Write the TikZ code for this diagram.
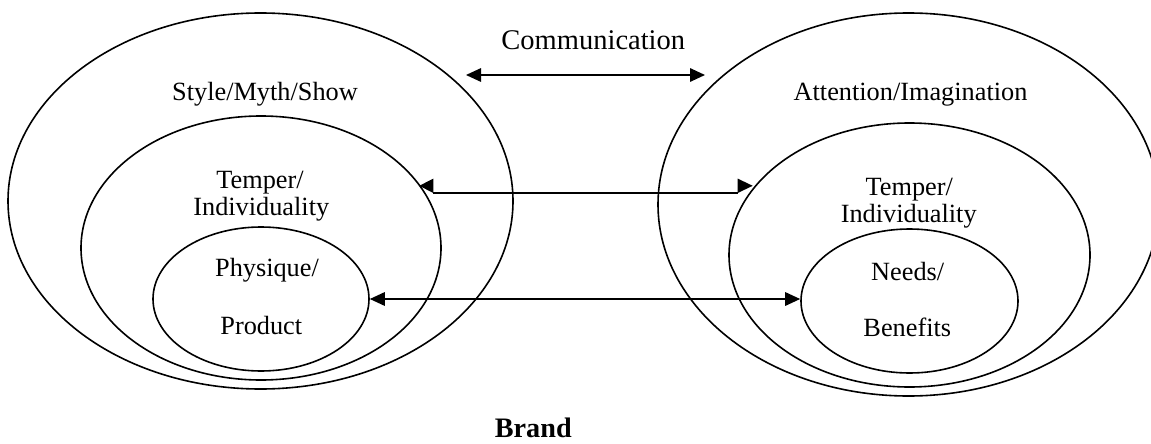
\documentclass[tikz,border=0pt]{standalone}
\usepackage{fontspec}
\setmainfont{Liberation Serif}
\usetikzlibrary{shapes.geometric,arrows.meta}
\begin{document}
\begin{tikzpicture}[x=1pt,y=-1pt,
  ring/.style n args={2}{draw, ellipse, line width=1.6pt, inner sep=0pt, minimum width=#1, minimum height=#2},
  lbl/.style={anchor=base, inner sep=0pt, text depth=0pt, font=\fontsize{26.3}{30}\selectfont},
  conn/.style={line width=1.6pt},
  dbl/.style={line width=1.6pt, >={Triangle[length=15pt,width=13.5pt]}, <->}]
\fill[white] (0,0) rectangle (1151,444);
\useasboundingbox (0,0) rectangle (1151,444);
% left ellipses
\node[ring={505pt}{376pt}] (louter) at (260.5,201) {};
\node[ring={360pt}{264pt}] (lmid) at (261,248) {};
\node[ring={216pt}{144pt}] (linner) at (261,299) {};
% right ellipses
\node[ring={501pt}{383pt}] (router) at (908.5,204.5) {};
\node[ring={361pt}{264pt}] (rmid) at (909.5,255) {};
\node[ring={217pt}{144pt}] (rinner) at (909.5,301) {};
% labels
\node[lbl, font=\fontsize{28.5}{32}\selectfont] (comm) at (593.3,49.3) {Communication};
\node[lbl] (lstyle) at (265,100) {Style/Myth/Show};
\node[lbl] (rattn) at (910.5,100) {Attention/Imagination};
\node[lbl] (ltemp1) at (260,188.3) {Temper/};
\node[lbl] (ltemp2) at (261.3,215.7) {Individuality};
\node[lbl] (lphys) at (267,276.7) {Physique/};
\node[lbl] (lprod) at (261.3,334) {Product};
\node[lbl] (rtemp1) at (909.3,195.7) {Temper/};
\node[lbl] (rtemp2) at (908.7,222.3) {Individuality};
\node[lbl] (rneed) at (907.7,280) {Needs/};
\node[lbl] (rben) at (907.3,336.3) {Benefits};
\node[lbl, font=\fontsize{28.2}{32}\selectfont\bfseries] (brand) at (533.3,437.5) {Brand};
% top arrow (Communication)
\coordinate (cL) at (466,75);
\coordinate (cR) at (705,75);
\draw[dbl] (cL) -- (cR);
% middle arrow (Temper/Individuality), heads offset above the shaft
\coordinate (mtipL) at (419.3,185.8);
\coordinate (mtipR) at (752.7,185.8);
\path (mtipL) ++(14,7.2) coordinate (mbaseL);
\path (mtipR) ++(-15,7.2) coordinate (mbaseR);
\draw[conn] (mbaseL) -- (mbaseR);
\fill (mtipL) -- ++(14,-7.2) -- ++(0,14.4) -- cycle;
\fill (mtipR) -- ++(-15,-7.2) -- ++(0,14.4) -- cycle;
% bottom arrow (Physique/Product <-> Needs/Benefits)
\draw[dbl] (linner.east) -- (linner.east -| rinner.west);
\end{tikzpicture}
\end{document}
